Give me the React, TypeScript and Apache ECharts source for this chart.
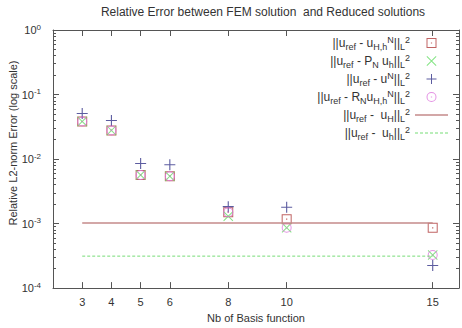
import React, { useEffect, useRef } from 'react';
import * as echarts from 'echarts';

const nbBasis = [3, 4, 5, 6, 8, 10, 15];
const errUHhN = [0.0382, 0.0278, 0.00567, 0.00542, 0.0015, 0.00117, 0.00086];
const errPNuh = [0.0382, 0.0278, 0.00567, 0.00542, 0.0013, 0.00086, 0.000325];
const errUN = [0.0509, 0.0395, 0.00855, 0.00817, 0.00183, 0.00179, 0.000224];
const errRN = [0.0382, 0.0278, 0.00567, 0.00542, 0.0015, 0.00086, 0.000325];
const errUH = 0.00102;
const errUh = 0.000313;
const yDecades = [-4, -3, -2, -1];
const yMinorFactors = [2, 3, 4, 5, 6, 7, 8, 9];

const seriesNames = ['sq', 'cross', 'plus', 'circ', 'lineH', 'lineh'];
const legendLabels: Record<string, string> = {
  sq: '||u{sub|ref} - u{sub|H,h}{sup|N}||{sub|L}{sup|2}',
  cross: '||u{sub|ref} - P{sub|N} u{sub|h}||{sub|L}{sup|2}',
  plus: '||u{sub|ref} - u{sup|N}||{sub|L}{sup|2}',
  circ: '||u{sub|ref} - R{sub|N}u{sub|H,h}{sup|N}||{sub|L}{sup|2}',
  lineH: '||u{sub|ref} -  u{sub|H}||{sub|L}{sup|2}',
  lineh: '||u{sub|ref} -  u{sub|h}||{sub|L}{sup|2}',
};

const SYM_SQ = 'path://M0 0H10V10H0ZM1 1V9H9V1ZM4.4 4.4H5.6V5.6H4.4Z';
const SYM_X = 'path://M0 0.7L0.7 0L10 9.3L9.3 10ZM10 0.7L0.7 10L0 9.3L9.3 0Z';
const SYM_PLUS = 'path://M4.5 0H5.5V10H4.5ZM0 4.5H10V5.5H0Z';
const SYM_CIRC = 'path://M5 0A5 5 0 1 1 5 10A5 5 0 1 1 5 0ZM5 1A4 4 0 1 0 5 9A4 4 0 1 0 5 1ZM4.4 4.4H5.6V5.6H4.4Z';
const ICON_SOLID = 'path://M0 0H33V1.6H0Z';
const ICON_DASH =
  'path://M0 0H3V1.2H0ZM5 0H8V1.2H5ZM10 0H13V1.2H10ZM15 0H18V1.2H15ZM20 0H23V1.2H20ZM25 0H28V1.2H25ZM30 0H33V1.2H30Z';

const FONT = 'Liberation Sans, Arial, Helvetica, sans-serif';
const AX = '#555';

export default function App() {
  const ref = useRef<HTMLDivElement>(null);
  useEffect(() => {
    if (!ref.current) return;
    const chart = echarts.init(ref.current, undefined, { renderer: 'svg' });
    const minorExp: number[] = [];
    yDecades.forEach((d) => yMinorFactors.forEach((k) => minorExp.push(Math.log10(k * Math.pow(10, d)))));
    const pts = (arr: number[]) => nbBasis.map((x, i) => [x, arr[i]]);
    const hline = (v: number) => [[nbBasis[0], v], [nbBasis[nbBasis.length - 1], v]];
    const xCommon = {
      type: 'value', min: 2, max: 15.9,
      axisLine: { show: true, onZero: false, lineStyle: { color: AX } },
      axisTick: { show: true, inside: true, length: 6, customValues: nbBasis, lineStyle: { color: AX } },
      splitLine: { show: false },
    };
    const yLog = {
      type: 'log', min: 0.0001, max: 1, logBase: 10,
      axisLine: { show: true, onZero: false, lineStyle: { color: AX } },
      axisTick: { show: true, inside: true, length: 6, lineStyle: { color: AX } },
      splitLine: { show: false },
    };
    const yMinor = {
      type: 'value', min: -4, max: 0,
      axisLine: { show: false, onZero: false },
      axisTick: { show: true, inside: true, length: 3, customValues: minorExp, lineStyle: { color: AX } },
      axisLabel: { show: false },
      splitLine: { show: false },
    };
    const option: any = {
      animation: false,
      backgroundColor: '#fff',
      textStyle: { fontFamily: FONT },
      title: {
        text: 'Relative Error between FEM solution  and Reduced solutions',
        left: 258, textAlign: 'center', top: 1,
        textStyle: { fontSize: 12, fontWeight: 'normal', color: '#333', fontFamily: FONT },
      },
      grid: { left: 53, right: 3, top: 30, bottom: 35 },
      xAxis: [
        {
          ...xCommon, position: 'bottom',
          axisLabel: { customValues: nbBasis, fontSize: 11, color: '#333', margin: 8, fontFamily: FONT },
          name: 'Nb of Basis function', nameLocation: 'middle', nameGap: 21,
          nameTextStyle: { fontSize: 11, color: '#333', fontFamily: FONT },
        },
        { ...xCommon, position: 'top', axisLabel: { show: false } },
      ],
      yAxis: [
        {
          ...yLog, position: 'left',
          axisLabel: {
            margin: 12, color: '#333', fontFamily: FONT,
            formatter: (v: number) => `{b|10}{s|${Math.round(Math.log10(v))}}`,
            rich: {
              b: { fontSize: 11, lineHeight: 14, color: '#333', fontFamily: FONT },
              s: { fontSize: 8, lineHeight: 8, verticalAlign: 'top', color: '#333', fontFamily: FONT },
            },
          },
        },
        { ...yMinor, position: 'left' },
        { ...yLog, position: 'right', axisLabel: { show: false } },
        { ...yMinor, position: 'right' },
      ],
      legend: {
        orient: 'vertical', right: 14, top: 35, align: 'right', padding: 0,
        itemWidth: 33, itemHeight: 10, itemGap: 2,
        data: [
          { name: 'sq' },
          { name: 'cross' },
          { name: 'plus' },
          { name: 'circ' },
          { name: 'lineH', icon: ICON_SOLID },
          { name: 'lineh', icon: ICON_DASH },
        ],
        formatter: (name: string) => legendLabels[name],
        textStyle: {
          fontSize: 12, color: '#333', fontFamily: FONT,
          rich: {
            sub: { fontSize: 9, lineHeight: 10, verticalAlign: 'bottom', color: '#333', fontFamily: FONT },
            sup: { fontSize: 9, lineHeight: 8, verticalAlign: 'top', color: '#333', fontFamily: FONT },
          },
          lineHeight: 16,
        },
      },
      graphic: [
        {
          type: 'text', x: 13, y: 143, rotation: Math.PI / 2,
          style: {
            text: 'Relative L2-norm Error (log scale)', fill: '#333', fontSize: 11, fontFamily: FONT,
            align: 'center', verticalAlign: 'middle',
          },
        },
      ],
      series: [
        { name: seriesNames[0], type: 'scatter', data: pts(errUHhN), symbol: SYM_SQ, symbolSize: 10, itemStyle: { color: '#b03c3c' } },
        { name: seriesNames[1], type: 'scatter', data: pts(errPNuh), symbol: SYM_X, symbolSize: 10, itemStyle: { color: '#66dd66' } },
        { name: seriesNames[2], type: 'scatter', data: pts(errUN), symbol: SYM_PLUS, symbolSize: 11, itemStyle: { color: '#333388' } },
        { name: seriesNames[3], type: 'scatter', data: pts(errRN), symbol: SYM_CIRC, symbolSize: 10, itemStyle: { color: '#dd77dd' } },
        {
          name: seriesNames[4], type: 'line', data: hline(errUH), symbol: 'none', showSymbol: false,
          lineStyle: { color: '#c48a8a', width: 1.5 }, itemStyle: { color: '#c48a8a' },
        },
        {
          name: seriesNames[5], type: 'line', data: hline(errUh), symbol: 'none', showSymbol: false,
          lineStyle: { color: '#77dd77', width: 1, type: [3, 2] }, itemStyle: { color: '#77dd77' },
        },
      ],
    };
    chart.setOption(option);
    return () => chart.dispose();
  }, []);
  return <div ref={ref} style={{ width: 462, height: 328, position: 'absolute', left: 0, top: 0 }} />;
}
